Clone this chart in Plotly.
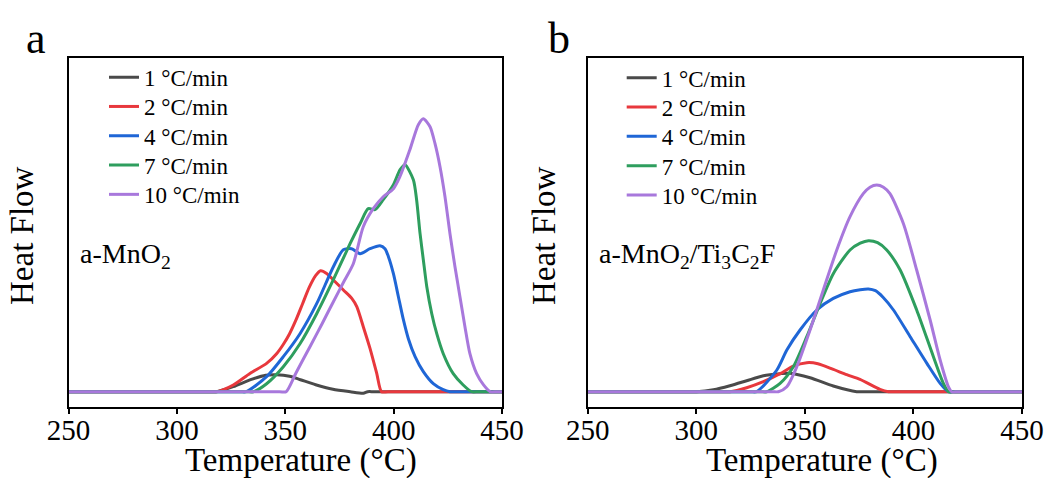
import plotly.graph_objects as go

# ---------------- data ----------------
rate_labels = ["1 °C/min", "2 °C/min", "4 °C/min", "7 °C/min", "10 °C/min"]
colors = ["#4a4a4a", "#e8383d", "#1f66d6", "#2e9e5e", "#a878dc"]

# Panel a: a-MnO2 (temperature in °C, heat flow in arbitrary units)
a_T1 = [250, 315, 318, 326, 334, 341, 346, 352, 357, 364, 372, 380, 386, 388, 391, 450]
a_H1 = [0, 0, 0, 5, 12, 16.5, 17, 15.5, 12, 7, 2.5, 0, -1.5, 0, 0, 0]

a_T2 = [250, 315.4, 318.4, 326, 333.7, 341.4, 346, 349, 352, 355, 358, 361, 364, 366.3,
        369.1, 372.2, 376.8, 380.7, 383, 386, 389.1, 392.2, 394.4, 397.4, 450]
a_H2 = [0, 0, 0, 6.7, 18.3, 28.3, 38, 47, 58, 72, 88, 104, 116, 121,
        118.3, 111.7, 101.7, 93.3, 85, 65, 43.3, 18.3, 0, 0, 0]

a_T4 = [250, 329, 332, 341.4, 349.1, 356.8, 364.5, 372.2, 376.8, 380.6, 384.5, 389.1, 393.7, 396,
        397.6, 399.9, 402.2, 404.5, 406.8, 409.9, 413.7, 418.3, 422.9, 426, 429, 450]
a_H4 = [0, 0, 0, 15, 35, 58, 88, 125, 142, 143, 138, 143, 146, 143,
        135, 118, 95, 72, 53, 35, 20, 8, 2, 0, 0, 0]

a_T7 = [250, 332, 335.3, 341.4, 349.1, 356.8, 364.5, 372.2, 379.9, 384.5, 388.3, 391.4, 395.2, 399.9,
        403, 405.2, 409.1, 410.6, 412.2, 413.7, 415.3, 417.6, 419.9, 422.9, 427.5, 432.1, 436,
        439, 450]
a_H7 = [0, 0, 0, 8, 25, 48, 78, 112, 148, 168, 183, 182, 192, 207,
        222, 227, 212, 192, 158, 132, 105, 78, 58, 38, 18, 6.7, 0,
        0, 0]

a_T10 = [250, 347.4, 350.4, 355, 361.4, 367, 372.2, 377, 381.4, 386, 390.6, 395.2, 399.9, 402.9,
         407.5, 411.4, 413.7, 416.8, 419.1, 421.4, 423.7, 426, 428.3, 430.6, 432.9, 435.2, 438.3,
         441.4, 444.5, 447.5, 450]
a_H10 = [0, 0, 0, 19, 45, 68, 90, 110, 128, 165, 183, 195, 203, 215,
         242, 267, 273, 265, 248, 225, 195, 158, 125, 95, 65, 38, 18,
         7, 0, 0, 0]

# Panel b: a-MnO2/Ti3C2F
b_T1 = [250, 297, 300, 307.9, 315.5, 323.2, 330.9, 338.6, 343.2, 352.4, 363.1, 373.9, 377, 450]
b_H1 = [0, 0, 0, 2, 6, 11, 16, 18, 18.5, 14, 5.7, 0, 0, 0]

b_T2 = [250, 312.5, 315.5, 323.2, 330.9, 338.6, 344.7, 350.9, 356, 363.1, 369.3, 375.4, 384.6, 388.5,
        391.5, 450]
b_H2 = [0, 0, 0, 4, 10, 18, 25.6, 29, 28, 22.3, 17, 12.3, 2.3, 0,
        0, 0]

b_T4 = [250, 324.8, 327.8, 337.1, 341.7, 347.8, 355.5, 363.1, 370.8, 375.5, 379.3, 382.5, 386, 390.8,
        398.5, 406.2, 412.3, 416.1, 419, 450]
b_H4 = [0, 0, 0, 21.7, 41.7, 61.7, 81.7, 93.3, 100, 102, 102.7, 101, 94.5, 81.7,
        55, 28.3, 8.3, 0, 0, 0]

b_T7 = [250, 329.4, 332.4, 338.6, 344.7, 350.9, 357, 363.1, 370.8, 375.5, 379.3, 383.5, 387.7, 393.9,
        401.5, 409.2, 413.8, 416.1, 419, 450]
b_H7 = [0, 0, 0, 8.3, 25, 55, 88, 118, 141.7, 148.5, 151, 149, 141.7, 121.7,
        81.7, 35, 8.3, 0, 0, 0]

b_T10 = [250, 334.8, 337.8, 341.7, 346.3, 352.4, 358.5, 364.7, 370.8, 376.9, 380, 383.1, 386.2, 389.2,
         395.4, 401.5, 407.7, 412.3, 416.1, 417.6, 420.5, 450]
b_H10 = [0, 0, 0, 5, 25, 61.7, 101.7, 141.7, 175, 198, 204.5, 206.7, 204.5, 198,
         168, 121.7, 71.7, 31.7, 5, 0, 0, 0]

panel_a = [(a_T1, a_H1), (a_T2, a_H2), (a_T4, a_H4), (a_T7, a_H7), (a_T10, a_H10)]
panel_b = [(b_T1, b_H1), (b_T2, b_H2), (b_T4, b_H4), (b_T7, b_H7), (b_T10, b_H10)]

x_ticks = [250, 300, 350, 400, 450]

# ---------------- figure ----------------
W, H = 1046, 478
SERIF = "Liberation Serif"


def px_x(p):
    return p / W


def px_y(p):
    return 1 - p / H


fig = go.Figure()

# one legend box per entry so the row pitch can follow the figure's spacing
legend_boxes = {}
row_pitch = 29.3
for panel_idx, (panel, xa, ya, leg_left, first_row) in enumerate([
        (panel_a, "x", "y", 104, 77.7),
        (panel_b, "x2", "y2", 621.7, 78.3)]):
    for i, ((T, Hf), name, col) in enumerate(zip(panel, rate_labels, colors)):
        n = panel_idx * 5 + i + 1
        leg_id = "legend" if n == 1 else f"legend{n}"
        fig.add_trace(go.Scatter(
            x=T, y=Hf, name=name, mode="lines", showlegend=True,
            line=dict(color=col, width=3, shape="spline", smoothing=0.7),
            xaxis=xa, yaxis=ya, legend=leg_id))
        legend_boxes[leg_id] = dict(
            x=px_x(leg_left), y=px_y(first_row + row_pitch * i - 22),
            xanchor="left", yanchor="top",
            font=dict(family=SERIF, size=23, color="black"),
            bgcolor="rgba(0,0,0,0)", borderwidth=0, itemclick=False,
        )

xaxis_style = dict(
    range=[250, 450], tickvals=x_ticks, ticks="outside", ticklen=5, tickwidth=2,
    tickcolor="black", showline=True, linecolor="black", linewidth=2, mirror=True,
    showgrid=False, zeroline=False, ticklabelstandoff=-9,
    tickfont=dict(family=SERIF, size=29, color="black"),
)
yaxis_style = dict(
    range=[-15.3, 333.7], showticklabels=False, ticks="", showline=True,
    linecolor="black", linewidth=2, mirror=True, showgrid=False, zeroline=False,
    domain=[px_y(407), px_y(58)],
)

fig.update_layout(
    width=W, height=H, showlegend=True,
    margin=dict(l=0, r=0, t=0, b=0, autoexpand=False),
    paper_bgcolor="white", plot_bgcolor="white",
    xaxis=dict(domain=[px_x(68.5), px_x(502)], anchor="y", **xaxis_style),
    yaxis=dict(anchor="x", **yaxis_style),
    xaxis2=dict(domain=[px_x(587.7), px_x(1022)], anchor="y2", **xaxis_style),
    yaxis2=dict(anchor="x2", **yaxis_style),
    **legend_boxes,
)

ann = []
title_font = dict(family=SERIF, size=33, color="black")
for cx, letter, lx, hx, sample, sx in [
    (301, "a", 36, 22, "a-MnO<sub>2</sub>", 78),
    (822, "b", 559, 544, "a-MnO<sub>2</sub>/Ti<sub>3</sub>C<sub>2</sub>F", 597),
]:
    ann.append(dict(text="Temperature (°C)", x=px_x(cx), y=px_y(460), xref="paper", yref="paper",
                    xanchor="center", yanchor="middle", showarrow=False, font=title_font))
    ann.append(dict(text="Heat Flow", x=px_x(hx), y=px_y(236), xref="paper", yref="paper",
                    xanchor="center", yanchor="middle", textangle=-90, showarrow=False,
                    font=title_font))
    ann.append(dict(text=letter, x=px_x(lx), y=px_y(38), xref="paper", yref="paper",
                    xanchor="center", yanchor="middle", showarrow=False,
                    font=dict(family=SERIF, size=44, color="black")))
    ann.append(dict(text=sample, x=px_x(sx), y=px_y(256), xref="paper", yref="paper",
                    xanchor="left", yanchor="middle", showarrow=False,
                    font=dict(family=SERIF, size=28, color="black")))

fig.update_layout(annotations=ann)

fig.write_html("out.html")
